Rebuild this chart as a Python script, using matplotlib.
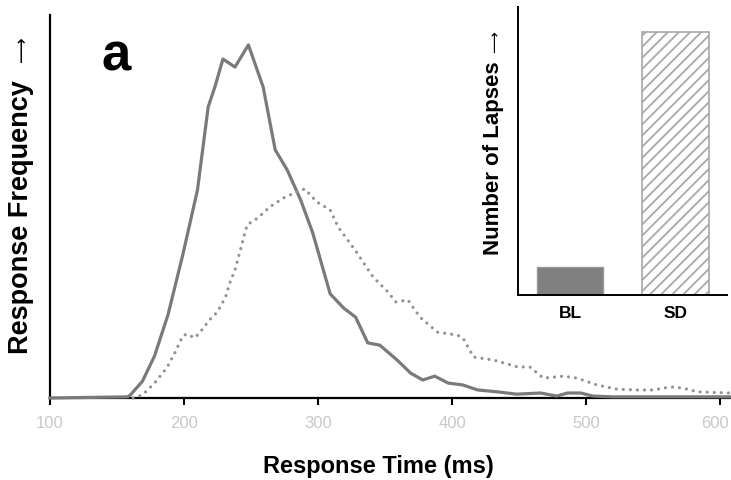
import matplotlib.pyplot as plt
from matplotlib.transforms import ScaledTranslation

plt.rcParams['font.family'] = ['Liberation Sans', 'DejaVu Sans']
plt.rcParams['hatch.color'] = '#8a8a8a'
plt.rcParams['hatch.linewidth'] = 1.3

# baseline (BL) response-time distribution, solid line
bl_ms = [100, 158, 160, 169, 178, 188, 199, 210, 218, 223, 229, 238, 248, 259, 268,
         277, 287, 296, 309, 319, 328, 337, 346, 359, 369, 378, 387, 397, 408, 419,
         434, 448, 466, 478, 486, 496, 505, 520, 608]
bl_freq = [0, 0.3, 0.8, 4.4, 11.0, 21.7, 37.3, 54.3, 76.0, 81.2, 88.5, 86.4, 92.2, 81.2, 64.8,
           59.5, 51.7, 43.1, 27.2, 23.5, 21.1, 14.4, 13.8, 9.9, 6.5, 4.7, 5.7, 3.9, 3.4, 2.1,
           1.6, 1.0, 1.3, 0.5, 1.3, 1.3, 0.5, 0.3, 0.3]

# sleep-deprived (SD) distribution, dotted line
sd_ms = [162, 169, 178, 187, 193, 199, 202, 208, 212, 219, 225, 231, 234, 238, 242,
         247, 255, 264, 274, 284, 290, 299, 309, 315, 322, 329, 341, 352, 358, 367,
         376, 389, 404, 408, 416, 431, 449, 458, 468, 483, 493, 508, 523, 538, 550,
         563, 572, 583, 608]
sd_freq = [0, 0.8, 3.9, 7.8, 11.7, 16.2, 16.7, 15.7, 17.2, 20.4, 22.5, 26.4, 30.0, 33.4, 38.6,
           45.2, 47.0, 49.9, 52.2, 53.8, 54.6, 51.2, 49.1, 44.6, 41.3, 37.9, 31.6, 27.7, 25.1, 25.6,
           21.1, 17.2, 16.4, 15.7, 10.7, 9.9, 8.1, 8.1, 5.2, 5.7, 5.2, 3.4, 2.3, 2.1, 2.1,
           2.9, 2.6, 1.6, 1.3]

xticks = [100, 200, 300, 400, 500, 600]

groups = ['BL', 'SD']
lapses = [3, 28]

fig = plt.figure(figsize=(7.31, 4.8), dpi=100)
ax = fig.add_axes([50 / 731, 1 - 398 / 480, 681 / 731, 383 / 480])

ax.plot(bl_ms, bl_freq, color='#7a7a7a', lw=2.3, zorder=3, clip_on=False)
ax.plot(sd_ms, sd_freq, color='#939393', lw=2.3, ls=(0, (0.01, 2.2)),
        dash_capstyle='round', zorder=3, clip_on=False)

ax.set_xlim(100, 608)
ax.set_ylim(0, 100)
ax.set_xticks(xticks)
ax.set_yticks([])
for s in ['top', 'right']:
    ax.spines[s].set_visible(False)
for s in ['left', 'bottom']:
    ax.spines[s].set_linewidth(1.6)
ax.tick_params(axis='x', length=5, width=1.5, pad=8, labelsize=12, labelcolor='#c8c8c8')
last = ax.get_xticklabels()[-1]
last.set_transform(last.get_transform() + ScaledTranslation(-4 / 72, 0, fig.dpi_scale_trans))

ax.text(0.075, 0.855, 'a', transform=ax.transAxes, fontsize=38, fontweight='bold')

# y label with a separate thin arrow
fig.text(21 / 731, 1 - 217 / 480, 'Response Frequency', rotation=90,
         ha='center', va='center', fontsize=19.5, fontweight='bold')
fig.text(22 / 731, 1 - 49 / 480, '\u27f6', rotation=90, family='DejaVu Sans',
         ha='center', va='center', fontsize=13)
fig.text(378 / 731, 1 - 466 / 480, 'Response Time (ms)',
         ha='center', va='center', fontsize=17, fontweight='bold')

# inset: number of lapses
ins = fig.add_axes([518 / 731, 1 - 295 / 480, 209 / 731, 288 / 480])
ins.bar(0, lapses[0], width=0.63, color='#808080', edgecolor='#999999', lw=1)
ins.bar(1, lapses[1], width=0.63, color='white', edgecolor='#a8a8a8', lw=1.2, hatch='///')
ins.set_xlim(-0.493, 1.487)
ins.set_ylim(0, 30.66)
ins.set_xticks([0, 1])
ins.set_xticklabels(groups, fontsize=12.5, fontweight='bold')
ins.tick_params(axis='x', length=0, pad=8)
ins.set_yticks([])
for s in ['top', 'right']:
    ins.spines[s].set_visible(False)
for s in ['left', 'bottom']:
    ins.spines[s].set_linewidth(1.4)
fig.text(494 / 731, 1 - 158 / 480, 'Number of Lapses', rotation=90,
         ha='center', va='center', fontsize=16, fontweight='bold')
fig.text(495 / 731, 1 - 42 / 480, '\u27f6', rotation=90, family='DejaVu Sans',
         ha='center', va='center', fontsize=11)

fig.savefig('out.png', dpi=100)
